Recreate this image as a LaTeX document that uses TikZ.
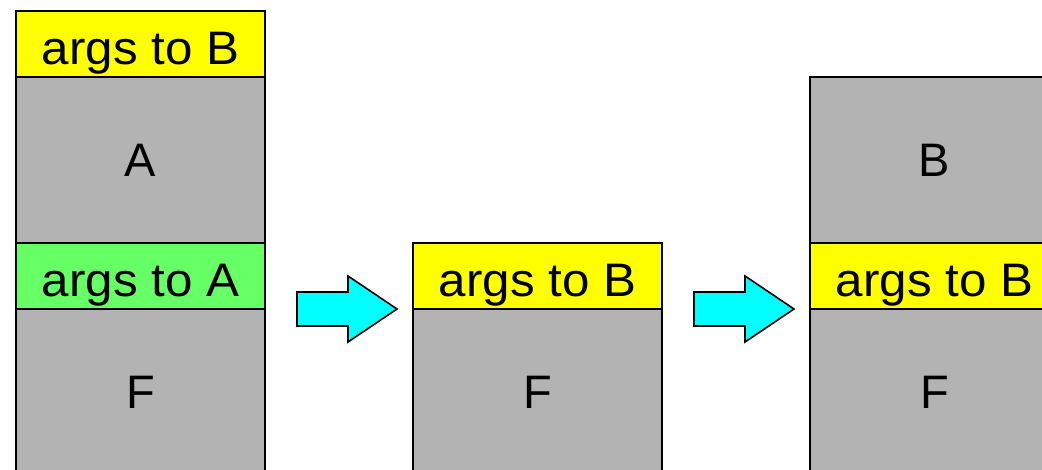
\documentclass[tikz,border=0pt]{standalone}
\usepackage{fontspec}
\setmainfont{Liberation Sans}
\newfontfamily\argsfont[FakeStretch=1.05]{Liberation Sans}
\definecolor{frameyellow}{RGB}{255,255,0}
\definecolor{framegray}{RGB}{179,179,179}
\definecolor{framegreen}{RGB}{102,255,102}
\definecolor{stepcyan}{RGB}{0,255,255}
\tikzset{
  frame/.style={draw=black, line width=1.6pt, minimum width=249pt, anchor=north west, inner sep=0pt, outer sep=0pt},
  argsbox/.style={frame, minimum height=66pt},
  bodybox/.style={frame, minimum height=166pt, fill=framegray},
  lbl/.style={font=\fontsize{47}{56}\selectfont, text height=33.6pt, text depth=0pt, inner sep=0pt},
  argslbl/.style={lbl, font=\argsfont\fontsize{47}{56}\selectfont, yshift=-3.5pt},
  stackarrow/.style={draw=black, line width=1.6pt, fill=stepcyan, line join=miter},
}
\begin{document}
\begin{tikzpicture}[x=1pt, y=-1pt]
  \useasboundingbox (0,0) rectangle (1042,469);
  \clip (0,0) rectangle (1042,469);

  % left stack: F calls A, A is about to call B
  \node[argsbox, fill=frameyellow] (l1) at (16,11) {};
  \node[bodybox] (l2) at (16,77) {};
  \node[argsbox, fill=framegreen] (l3) at (16,243) {};
  \node[bodybox] (l4) at (16,309) {};
  \node[argslbl] at (l1.center) {args to B};
  \node[lbl] at (l2.center) {A};
  \node[argslbl] at (l3.center) {args to A};
  \node[lbl] at (l4.center) {F};

  % middle stack: A's frame replaced by the arguments for B
  \node[argsbox, fill=frameyellow] (m1) at (413,243) {};
  \node[bodybox] (m2) at (413,309) {};
  \node[argslbl] at (m1.center) {args to B};
  \node[lbl] at (m2.center) {F};

  % right stack: B runs on top of F
  \node[bodybox] (r1) at (810,77) {};
  \node[argsbox, fill=frameyellow] (r2) at (810,243) {};
  \node[bodybox] (r3) at (810,309) {};
  \node[lbl] at (r1.center) {B};
  \node[argslbl] at (r2.center) {args to B};
  \node[lbl] at (r3.center) {F};

  % block arrows between the stacks
  \foreach \dx in {0,397} {
    \draw[stackarrow, xshift=\dx pt]
      (297,292) -- (348,292) -- (348,276) -- (397,309) -- (348,342) -- (348,326) -- (297,326) -- cycle;
  }
\end{tikzpicture}
\end{document}
